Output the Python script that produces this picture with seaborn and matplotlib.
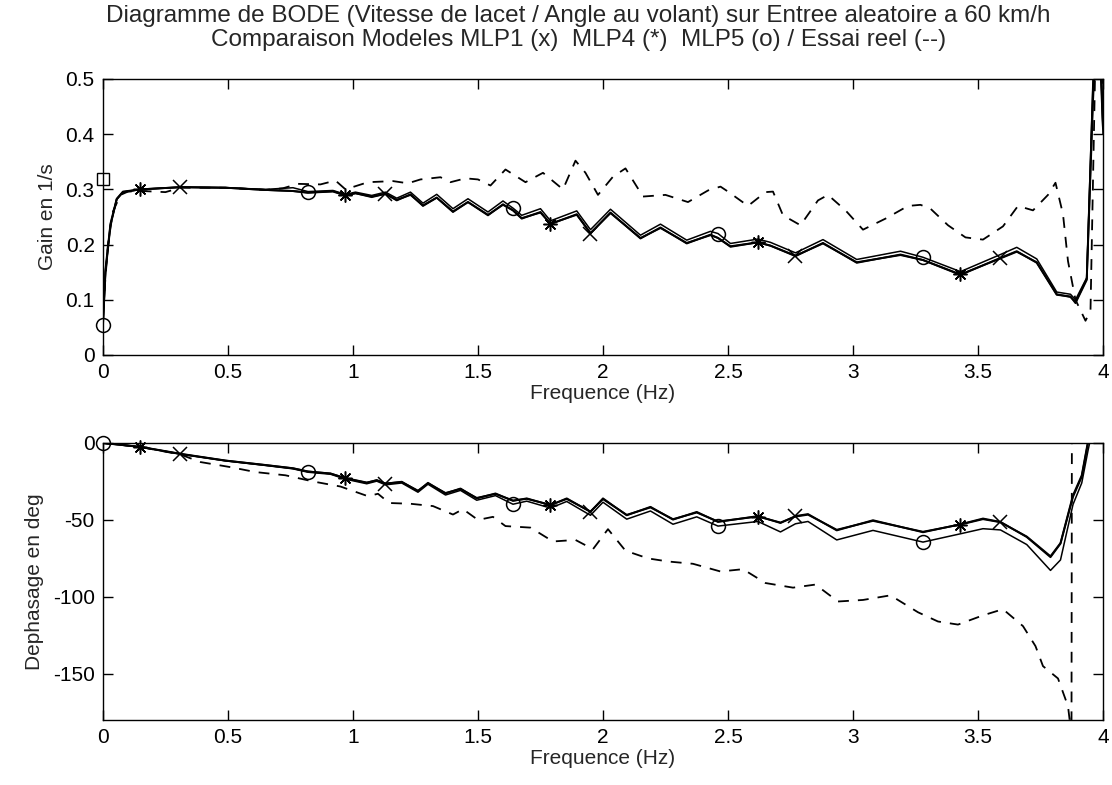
import numpy as np
import pandas as pd
import seaborn as sns
import matplotlib
matplotlib.use("Agg")
import matplotlib.pyplot as plt

# ---- Gain (1/s) ----
freq_gain = [0.00, 0.01, 0.03, 0.055, 0.08, 0.15, 0.31, 0.49, 0.65, 0.76, 0.82, 0.92, 0.97, 1.01,
             1.075, 1.13, 1.175, 1.23, 1.28, 1.335, 1.40, 1.46, 1.54, 1.60, 1.64, 1.675, 1.75, 1.79,
             1.895, 1.95, 2.03, 2.15, 2.23, 2.335, 2.43, 2.46, 2.51, 2.62, 2.67, 2.77, 2.88, 3.015,
             3.19, 3.28, 3.43, 3.59, 3.655, 3.735, 3.815, 3.87, 3.89, 3.935, 3.96, 3.975, 3.99, 4.00]
gain_mlp1 = [0.055, 0.150, 0.235, 0.282, 0.295, 0.300, 0.304, 0.303, 0.299, 0.297, 0.294, 0.297, 0.289, 0.293,
             0.286, 0.292, 0.280, 0.291, 0.270, 0.285, 0.259, 0.277, 0.253, 0.273, 0.262, 0.247, 0.259, 0.237,
             0.255, 0.220, 0.258, 0.211, 0.231, 0.202, 0.218, 0.212, 0.196, 0.204, 0.198, 0.179, 0.203, 0.167,
             0.182, 0.172, 0.145, 0.176, 0.188, 0.167, 0.109, 0.106, 0.094, 0.136, 0.460, 0.600, 0.560, 0.420]
gain_mlp4 = [0.058, 0.155, 0.238, 0.283, 0.296, 0.300, 0.304, 0.303, 0.299, 0.297, 0.294, 0.296, 0.289, 0.293,
             0.287, 0.292, 0.281, 0.290, 0.271, 0.285, 0.260, 0.277, 0.254, 0.272, 0.262, 0.248, 0.258, 0.238,
             0.254, 0.221, 0.257, 0.212, 0.230, 0.203, 0.217, 0.212, 0.197, 0.204, 0.198, 0.180, 0.202, 0.168,
             0.181, 0.172, 0.146, 0.175, 0.187, 0.168, 0.110, 0.105, 0.096, 0.138, 0.480, 0.580, 0.520, 0.410]
gain_mlp5 = [0.055, 0.150, 0.235, 0.282, 0.295, 0.300, 0.304, 0.303, 0.300, 0.303, 0.296, 0.298, 0.291, 0.295,
             0.289, 0.295, 0.284, 0.295, 0.275, 0.291, 0.265, 0.283, 0.259, 0.279, 0.266, 0.253, 0.265, 0.243,
             0.261, 0.227, 0.264, 0.217, 0.237, 0.208, 0.224, 0.220, 0.202, 0.210, 0.204, 0.185, 0.209, 0.173,
             0.188, 0.177, 0.151, 0.182, 0.195, 0.174, 0.114, 0.110, 0.100, 0.140, 0.500, 0.620, 0.540, 0.400]

freq_gain_essai = [0.00, 0.02, 0.04, 0.07, 0.10, 0.16, 0.25, 0.31, 0.49, 0.65, 0.72, 0.78, 0.87, 0.93, 0.97,
                   1.06, 1.16, 1.22, 1.27, 1.31, 1.35, 1.39, 1.45, 1.50, 1.55, 1.61, 1.69, 1.76, 1.84, 1.89,
                   1.93, 1.98, 2.04, 2.09, 2.16, 2.25, 2.34, 2.42, 2.47, 2.50, 2.58, 2.65, 2.68, 2.72, 2.79,
                   2.86, 2.90, 2.97, 3.04, 3.13, 3.22, 3.27, 3.31, 3.38, 3.45, 3.52, 3.60, 3.66, 3.72, 3.78,
                   3.81, 3.84, 3.86, 3.89, 3.93, 3.95, 3.97, 3.99, 4.00]
gain_essai = [0.080, 0.200, 0.260, 0.290, 0.296, 0.297, 0.295, 0.303, 0.303, 0.299, 0.302, 0.310, 0.309, 0.316, 0.300,
              0.313, 0.315, 0.311, 0.318, 0.320, 0.322, 0.313, 0.320, 0.318, 0.307, 0.336, 0.313, 0.330, 0.300, 0.352,
              0.330, 0.290, 0.323, 0.338, 0.287, 0.290, 0.277, 0.298, 0.305, 0.296, 0.270, 0.295, 0.296, 0.253, 0.235,
              0.280, 0.290, 0.262, 0.227, 0.247, 0.270, 0.272, 0.265, 0.235, 0.213, 0.209, 0.233, 0.270, 0.262, 0.290,
              0.312, 0.255, 0.170, 0.100, 0.062, 0.080, 0.550, 0.620, 0.440]
gain_static = 0.318

# ---- Phase (deg) ----
freq_phase = [0.00, 0.15, 0.31, 0.49, 0.65, 0.76, 0.82, 0.91, 0.97, 1.055, 1.095, 1.13, 1.195, 1.26, 1.30,
              1.37, 1.43, 1.495, 1.57, 1.64, 1.695, 1.79, 1.855, 1.95, 2.00, 2.095, 2.19, 2.28, 2.375, 2.46,
              2.62, 2.71, 2.77, 2.82, 2.935, 3.08, 3.28, 3.43, 3.52, 3.59, 3.695, 3.79, 3.83, 3.88, 3.915,
              3.94, 3.96, 4.00]
phase_mlp1 = [0.0, -2.6, -7.2, -11.5, -14.4, -16.5, -18.6, -19.8, -23.0, -25.9, -24.1, -26.5, -25.2, -31.3, -25.9,
              -32.8, -29.6, -36.0, -32.8, -37.6, -36.0, -40.4, -36.0, -44.8, -36.0, -47.0, -41.5, -49.8, -44.8, -51.3,
              -47.5, -52.0, -47.5, -46.2, -56.8, -50.2, -58.0, -52.8, -49.1, -51.3, -61.1, -74.2, -65.4, -35.0, -22.0,
              0.0, 20.0, 40.0]
phase_mlp4 = [0.0, -2.5, -7.0, -11.4, -14.3, -16.4, -18.5, -19.9, -22.8, -25.7, -24.3, -26.3, -25.4, -31.0, -26.2,
              -32.5, -29.9, -35.7, -33.1, -37.4, -36.3, -40.2, -36.4, -44.5, -36.5, -46.7, -41.9, -49.5, -45.2, -51.0,
              -47.8, -51.7, -47.8, -46.6, -56.4, -50.6, -57.7, -53.0, -49.5, -51.5, -60.8, -73.6, -65.0, -34.0, -21.0,
              1.0, 22.0, 40.0]
phase_mlp5 = [0.0, -2.6, -7.2, -11.6, -14.6, -16.8, -19.0, -20.3, -23.5, -26.5, -24.8, -27.2, -26.0, -32.0, -26.8,
              -33.8, -30.8, -37.2, -34.2, -39.8, -37.8, -42.3, -38.0, -47.0, -38.5, -49.5, -44.2, -52.8, -48.0, -54.0,
              -51.0, -57.8, -52.5, -51.0, -63.0, -56.8, -64.4, -59.0, -55.7, -56.5, -66.0, -82.8, -76.0, -40.0, -26.0,
              -5.0, 10.0, 30.0]

freq_phase_essai = [0.00, 0.15, 0.31, 0.39, 0.51, 0.61, 0.73, 0.84, 0.95, 1.06, 1.10, 1.145, 1.23, 1.32, 1.40,
                    1.44, 1.50, 1.56, 1.61, 1.71, 1.80, 1.89, 1.96, 2.02, 2.09, 2.18, 2.26, 2.36, 2.47, 2.56,
                    2.65, 2.76, 2.85, 2.94, 3.04, 3.15, 3.26, 3.34, 3.42, 3.52, 3.60, 3.68, 3.73, 3.76, 3.82,
                    3.86, 3.874, 3.876, 4.00]
phase_essai = [0.0, -2.6, -7.5, -12.4, -15.7, -18.9, -21.0, -25.0, -28.3, -34.6, -33.0, -39.0, -39.5, -41.0, -46.5,
               -43.0, -50.0, -48.0, -54.0, -55.0, -64.0, -63.0, -69.0, -56.0, -70.0, -75.0, -77.0, -78.5, -83.5, -82.0,
               -91.0, -94.0, -92.0, -103.0, -102.0, -99.0, -110.0, -116.0, -118.0, -112.0, -108.0, -119.0, -132.0, -145.0, -153.0,
               -171.0, -190.0, 60.0, 60.0]

# marker positions (Hz) for each model
marks_mlp1 = [0.31, 1.13, 1.95, 2.77, 3.59]   # x
marks_mlp4 = [0.15, 0.97, 1.79, 2.62, 3.43]   # *
marks_mlp5 = [0.00, 0.82, 1.64, 2.46, 3.28]   # o

sns.set_style("ticks")
plt.rcParams['font.family'] = ['Liberation Sans', 'DejaVu Sans']

fig = plt.figure(figsize=(11.12, 7.85), dpi=100)
ax1 = fig.add_axes([0.0926, 0.5478, 0.8993, 0.3516])
ax2 = fig.add_axes([0.0926, 0.0828, 0.8993, 0.3529])

models = [("mlp1", "x", marks_mlp1), ("mlp4", (8, 2, 0), marks_mlp4), ("mlp5", "o", marks_mlp5)]
gains = {"mlp1": gain_mlp1, "mlp4": gain_mlp4, "mlp5": gain_mlp5}
phases = {"mlp1": phase_mlp1, "mlp4": phase_mlp4, "mlp5": phase_mlp5}
lws = {"mlp1": 1.4, "mlp4": 1.4, "mlp5": 1.1}

for ax, freq, vals, fe, ve in [(ax1, freq_gain, gains, freq_gain_essai, gain_essai),
                               (ax2, freq_phase, phases, freq_phase_essai, phase_essai)]:
    for name, mk, marks in models:
        df = pd.DataFrame({"f": freq, "v": vals[name]})
        sns.lineplot(data=df, x="f", y="v", ax=ax, color="k", lw=lws[name],
                     sort=False, estimator=None)
        sel = df[np.isclose(df["f"].values[:, None], np.array(marks)[None, :]).any(axis=1)]
        ax.plot(sel["f"], sel["v"], linestyle="none", marker=mk, markersize=10,
                markerfacecolor="none", markeredgecolor="k", markeredgewidth=1.1, clip_on=False)
    dfe = pd.DataFrame({"f": fe, "v": ve})
    sns.lineplot(data=dfe, x="f", y="v", ax=ax, color="k", lw=1.3, sort=False,
                 estimator=None, linestyle=(0, (6, 5)))

ax1.plot([0.0], [gain_static], linestyle="none", marker="s", markersize=9,
         markerfacecolor="none", markeredgecolor="k", clip_on=False)

xt = [0, 0.5, 1, 1.5, 2, 2.5, 3, 3.5, 4]
for ax in (ax1, ax2):
    ax.set_xlim(0, 4)
    ax.set_xticks(xt)
    ax.set_xticklabels(["0", "0.5", "1", "1.5", "2", "2.5", "3", "3.5", "4"])
    ax.tick_params(direction="in", top=True, right=True, length=7, width=1,
                   labelsize=15, colors="k", pad=6)
    for s in ax.spines.values():
        s.set_color("k")
        s.set_linewidth(1.0)
    ax.set_xlabel("Frequence (Hz)", fontsize=15, labelpad=1)

ax1.set_ylim(0, 0.5)
ax1.set_yticks([0, 0.1, 0.2, 0.3, 0.4, 0.5])
ax1.set_yticklabels(["0", "0.1", "0.2", "0.3", "0.4", "0.5"])
ax1.set_ylabel("Gain en 1/s", fontsize=15, labelpad=6)

ax2.set_ylim(-180, 0)
ax2.set_yticks([-150, -100, -50, 0])
ax2.set_yticklabels(["-150", "-100", "-50", "0"])
ax2.set_ylabel("Dephasage en deg", fontsize=15, labelpad=6)

fig.text(0.52, 0.980, "Diagramme de BODE (Vitesse de lacet / Angle au volant) sur Entree aleatoire a 60 km/h",
         ha="center", va="center", fontsize=17.5)
fig.text(0.52, 0.949, "Comparaison Modeles MLP1 (x)  MLP4 (*)  MLP5 (o) / Essai reel (--)",
         ha="center", va="center", fontsize=17.5)

fig.savefig("out.png", dpi=100, facecolor="white")
